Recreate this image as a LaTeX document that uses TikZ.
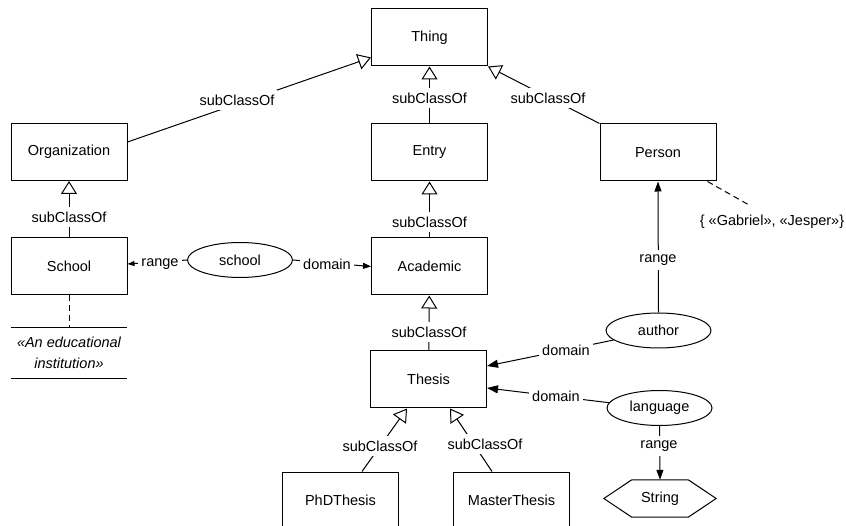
\documentclass[tikz,border=0pt]{standalone}
\usepackage{fontspec}
\setmainfont{Liberation Sans}
\usetikzlibrary{arrows.meta,shapes.geometric}
\begin{document}
\begin{tikzpicture}[x=1pt,y=-1pt,
  every node/.style={font=\fontsize{14.5}{17}\selectfont},
  cls/.style={draw, line width=1pt, minimum width=116pt, minimum height=57pt, inner sep=0pt},
  prop/.style={draw, ellipse, line width=1pt, minimum width=105pt, minimum height=35pt, inner sep=0pt},
  lbl/.style={fill=white, inner xsep=3pt, inner ysep=4.5pt},
  sub/.style={line width=1pt, -{Triangle[open, length=13pt, width=16pt]}},
  rel/.style={line width=1pt, -{Triangle[length=10pt, width=7pt]}},
  note/.style={line width=1pt, dash pattern=on 6pt off 4pt}
]
\clip (0,0) rectangle (846,526);

% classes
\node[cls] (thing)    at (429.5,37.5)  {Thing};
\node[cls] (entry)    at (429.5,152.5) {Entry};
\node[cls] (org)      at (69,152)      {Organization};
\node[cls] (schoolc)  at (69,266)      {School};
\node[cls] (person)   at (658,152.5)   {Person};
\node[cls] (academic) at (429.5,266.5) {Academic};
\node[cls] (thesis)   at (428.5,379.5) {Thesis};
\node[cls] (phd)      at (340.5,500.5) {PhDThesis};
\node[cls] (master)   at (511.5,500.5) {MasterThesis};

% properties
\node[prop] (school) at (240,260)    {school};
\node[prop] (author) at (658.5,330.5) {author};
\node[prop] (lang)   at (659.5,408)   {language};

% datatype (hexagon)
\node[minimum width=112pt, minimum height=37pt, inner sep=0pt] (str) at (660,498.5) {String};
\draw[line width=1pt] (str.west) -- ([xshift=28pt]str.north west) -- ([xshift=-28pt]str.north east)
  -- (str.east) -- ([xshift=-28pt]str.south east) -- ([xshift=28pt]str.south west) -- cycle;

% comment on School
\node[minimum width=116pt, minimum height=50pt, inner sep=0pt, align=center, font=\fontsize{14.5}{21}\itshape]
  (ann) at (69,353) {«An educational\\institution»};
\draw[line width=1pt] (ann.north west) -- (ann.north east);
\draw[line width=1pt] (ann.south west) -- (ann.south east);
\draw[note] (schoolc.south) -- (ann.north);

% enumeration on Person
\node (gab) at (772,222) {\{ «Gabriel», «Jesper»\}};
\coordinate (gabend) at (749,205);
\draw[note] ([xshift=-9pt]person.south east) -- (gabend);

% subclass edges
\draw[sub] ([yshift=-19pt]org.north east) -- ([yshift=9pt]thing.south west);
\draw[sub] (entry) -- (thing);
\draw[sub] (person.north west) -- (thing.south east);
\draw[sub] (schoolc) -- (org);
\draw[sub] (academic) -- (entry);
\draw[sub] (thesis) -- (academic);
\draw[sub] ([xshift=21.5pt]phd.north) -- ([xshift=-21.5pt]thesis.south);
\draw[sub] ([xshift=-19.5pt]master.north) -- ([xshift=21.5pt]thesis.south);

% domain / range edges
\draw[line width=1pt, -{Triangle[length=7pt, width=5pt]}] (school.west) -- ([yshift=2pt]schoolc.east);
\draw[line width=1pt, -{Triangle[length=8pt, width=6pt]}] (school.east) -- (academic.west);
\draw[rel] (author.north) -- (person.south);
\draw[line width=1pt, -{Triangle[length=11pt, width=8pt]}] (author.192) -- ([yshift=13.5pt]thesis.east);
\draw[line width=1pt, -{Triangle[length=11pt, width=8pt]}] (lang.174) -- ([yshift=-8.5pt]thesis.east);
\draw[rel] (lang.south) -- (str.north);

% edge labels
\node[lbl] (l1)  at (237,100) {subClassOf};
\node[lbl] (l2)  at (429.5,98) {subClassOf};
\node[lbl] (l3)  at (548,98)  {subClassOf};
\node[lbl] (l4)  at (69,217)  {subClassOf};
\node[lbl] (l5)  at (429.5,222) {subClassOf};
\node[lbl] (l6)  at (429,332) {subClassOf};
\node[lbl] (l7)  at (380,446) {subClassOf};
\node[lbl] (l8)  at (485,444) {subClassOf};
\node[lbl] (l9)  at (160,264) {range};
\node[lbl] (l10) at (327,264) {domain};
\node[lbl] (l11) at (658,260) {range};
\node[lbl] (l12) at (566,350) {domain};
\node[lbl] (l13) at (556,396) {domain};
\node[lbl] (l14) at (659,446) {range};
\end{tikzpicture}
\end{document}
